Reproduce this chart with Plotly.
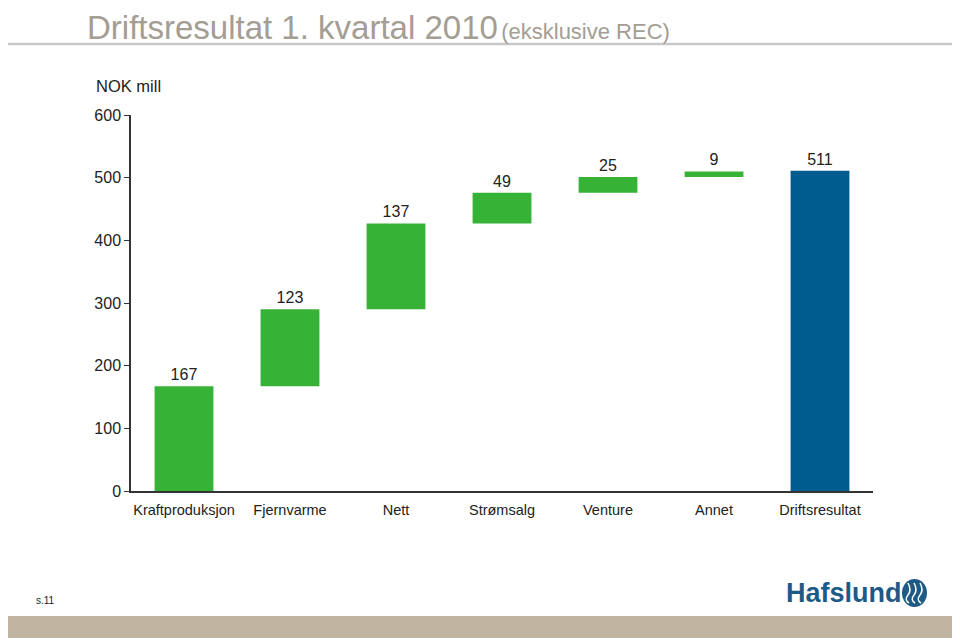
import plotly.graph_objects as go

categories = ["Kraftproduksjon", "Fjernvarme", "Nett", "Strømsalg", "Venture", "Annet", "Driftsresultat"]
values = [167, 123, 137, 49, 25, 9, 511]
is_total = [False, False, False, False, False, False, True]
y_ticks = [0, 100, 200, 300, 400, 500, 600]

GREEN = "#36b336"
BLUE = "#005b8e"
GREY_TXT = "#a39d93"
FONT = "Liberation Sans, Arial"

# the page body adds 8px margin, so the figure is 8px smaller than the window
W, H = 952, 632
L, T, R, B = 123, 107, 87, 149
PW, PH = W - L - R, H - T - B


def px(x):
    # screen x -> paper x
    return (x - 8 - L) / PW


def py(y):
    # screen y -> paper y
    return (H - B - (y - 8)) / PH


# waterfall bases from running sum
bases = []
running = 0
for v, tot in zip(values, is_total):
    if tot:
        bases.append(0)
    else:
        bases.append(running)
        running += v

colors = [BLUE if t else GREEN for t in is_total]

fig = go.Figure()
fig.add_trace(go.Bar(
    x=categories, y=values, base=bases,
    marker=dict(color=colors, line=dict(width=0)),
    width=0.555,
    text=[str(v) for v in values],
    textposition="outside",
    textfont=dict(size=16, color="#222", family=FONT),
    cliponaxis=False,
))

fig.update_layout(
    width=W, height=H,
    paper_bgcolor="white", plot_bgcolor="white",
    margin=dict(l=L, r=R, t=T, b=B),
    showlegend=False,
    font=dict(family=FONT, color="#222"),
    xaxis=dict(
        showline=True, linecolor="#333", linewidth=1.5,
        ticks="outside", ticklen=5, tickcolor="rgba(0,0,0,0)",
        tickfont=dict(size=14.5), showgrid=False,
    ),
    yaxis=dict(
        range=[0, 600], tickvals=y_ticks, showline=True, linecolor="#333", linewidth=1.5,
        ticks="outside", ticklen=5, tickcolor="#333", tickfont=dict(size=16),
        showgrid=False, zeroline=False,
    ),
)

# title (at the top edge of the figure)
fig.add_annotation(
    xref="paper", yref="paper", x=px(86), y=py(8), xanchor="left", yanchor="top",
    showarrow=False, borderpad=0,
    text="<span style='font-size:33px'>Driftsresultat 1. kvartal 2010</span> <span style='font-size:22px'>(eksklusive REC)</span>",
    font=dict(color=GREY_TXT, family=FONT),
)
fig.add_shape(type="line", xref="paper", yref="paper", x0=px(5), x1=px(955), y0=py(44), y1=py(44),
              line=dict(color="#c8c8c8", width=2.5))

# unit label
fig.add_annotation(xref="paper", yref="paper", x=px(94), y=py(86), xanchor="left", yanchor="middle",
                   showarrow=False, text="NOK mill", font=dict(size=16.5, color="#222"))

# page number
fig.add_annotation(xref="paper", yref="paper", x=px(34), y=py(600), xanchor="left", yanchor="middle",
                   showarrow=False, text="s.11", font=dict(size=10, color="#222"))

# logo
fig.add_annotation(xref="paper", yref="paper", x=px(784), y=py(593), xanchor="left", yanchor="middle",
                   showarrow=False, text="<b>Hafslund</b>",
                   font=dict(size=27, color="#1d5a86", family=FONT))
fig.add_shape(type="circle", xref="paper", yref="paper", x0=px(902), x1=px(927), y0=py(607), y1=py(579),
              line=dict(width=0), fillcolor="#1d5a86")
for cx in (908, 914, 920):
    fig.add_shape(type="path", xref="paper", yref="paper",
                  path=f"M {px(cx)},{py(583)} Q {px(cx + 4)},{py(590)} {px(cx)},{py(595)} T {px(cx + 1)},{py(603)}",
                  line=dict(color="white", width=1.5))

# bottom band
fig.add_shape(type="rect", xref="paper", yref="paper", x0=px(5), x1=px(955), y0=py(638), y1=py(616),
              line=dict(width=0), fillcolor="#bfb5a0")

fig.write_html("out.html")
